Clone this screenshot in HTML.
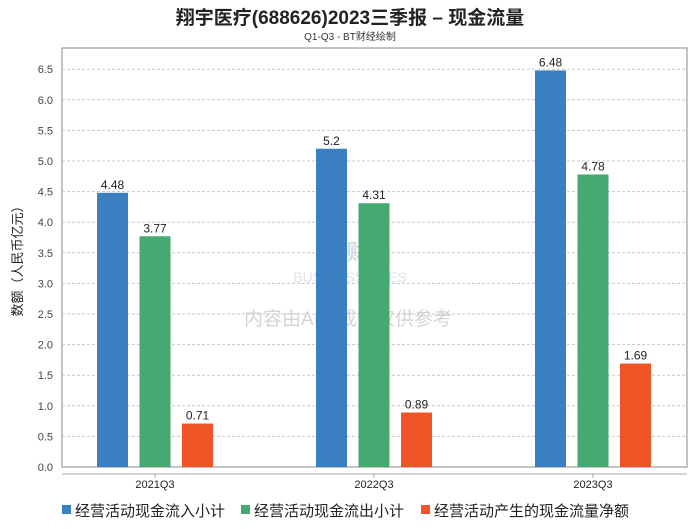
<!DOCTYPE html>
<html><head><meta charset="utf-8"><style>
body{margin:0;background:#fff;font-family:"Liberation Sans","Noto Sans CJK SC",sans-serif}
svg text{font-family:"Liberation Sans","Noto Sans CJK SC",sans-serif}
</style></head><body>
<svg id="c" width="700" height="524" xmlns="http://www.w3.org/2000/svg">
<text x="350" y="24" text-anchor="middle" font-size="19" font-weight="bold" fill="#222">翔宇医疗(688626)2023三季报 – 现金流量</text>
<text x="350" y="40" text-anchor="middle" font-size="10" fill="#333">Q1-Q3 - BT财经绘制</text>
<rect x="62" y="48" width="625" height="419" fill="none" stroke="#888"/>
<g id="grid"></g>
<line x1="62" y1="474" x2="687" y2="474" stroke="#aaa"/>
<text x="354" y="260" text-anchor="middle" font-size="22" fill="#d5dce8" font-weight="bold">BT财经</text>
<text x="350" y="282" text-anchor="middle" font-size="14" fill="#dde2ea">BUSINESSTIMES</text>
<text x="348" y="325" text-anchor="middle" font-size="19" fill="#d4d4d4">内容由AI生成，仅供参考</text>
<text transform="translate(22,258) rotate(-90)" text-anchor="middle" font-size="13" fill="#222">数额（人民币亿元）</text>
<g id="bars"></g>
<g id="legend"></g>
</svg>
<script>
const categories=["2021Q3","2022Q3","2023Q3"];
const inflow=[4.48,5.2,6.48];
const outflow=[3.77,4.31,4.78];
const net=[0.71,0.89,1.69];
const yTicks=[0,0.5,1,1.5,2,2.5,3,3.5,4,4.5,5,5.5,6,6.5];
const seriesNames=["经营活动现金流入小计","经营活动现金流出小计","经营活动产生的现金流量净额"];
const colors=["#3a7fc1","#46a971","#f05426"];
const NS="http://www.w3.org/2000/svg";
const y=v=>467-v*61.2;
const xc=i=>155+219*i;
function mk(t,a,p){const e=document.createElementNS(NS,t);for(const k in a)e.setAttribute(k,a[k]);p.appendChild(e);return e;}
const g=document.getElementById('grid');
yTicks.forEach(v=>{
  if(v>0){const l=mk('line',{x1:62,x2:687,y1:y(v),y2:y(v),stroke:'#c8c8c8','stroke-dasharray':'3,2'},g);
  
  }
  const t=mk('text',{x:53,y:y(v)+4,'text-anchor':'end','font-size':11,fill:'#444'},g);
  t.textContent=v.toFixed(1);
  
  
});
const b=document.getElementById('bars');
const series=[inflow,outflow,net];
categories.forEach((c,i)=>{
  const tk=mk('line',{x1:xc(i),x2:xc(i),y1:474,y2:478,stroke:'#aaa'},b);
  
  
  const t=mk('text',{x:xc(i),y:488,'text-anchor':'middle','font-size':11,fill:'#222'},b);
  t.textContent=c;
  
  
  series.forEach((s,j)=>{
    const cx=xc(i)+(j-1)*42.5;
    const r=mk('rect',{x:cx-15.5,y:y(s[i]),width:31,height:467-y(s[i]),fill:colors[j]},b);
    
    
    const l=mk('text',{x:cx,y:y(s[i])-4,'text-anchor':'middle','font-size':12,fill:'#222'},b);
    l.textContent=String(s[i]);
    
    
  });
});
const lg=document.getElementById('legend');
let lx=[62,241,421];
seriesNames.forEach((n,j)=>{
  const r=mk('rect',{x:lx[j],y:505,width:9,height:9,fill:colors[j]},lg);
  
  
  const t=mk('text',{x:lx[j]+13,y:516,'font-size':15,fill:'#222'},lg);
  t.textContent=n;
  
  
});
</script>
</body></html>
